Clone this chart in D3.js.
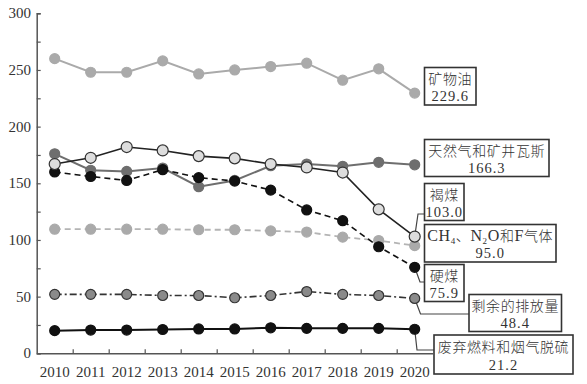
<!DOCTYPE html>
<html>
<head>
<meta charset="utf-8">
<script src="https://cdn.jsdelivr.net/npm/d3@7"></script>
<style>
  body { margin: 0; background: #fff; }
  svg { display: block; }
</style>
</head>
<body>
<svg id="chart" width="587" height="384"></svg>
<script>
// data
var years = [2010, 2011, 2012, 2013, 2014, 2015, 2016, 2017, 2018, 2019, 2020];
var yTicks = [0, 50, 100, 150, 200, 250, 300];

var mineralOil   = [260, 248, 248, 258, 246.5, 250, 253, 256, 241, 251, 229.6];
var naturalGas   = [176, 161.5, 160.5, 163.5, 147, 152.5, 165.5, 167, 165, 168.5, 166.3];
var lignite      = [167, 172.5, 182, 179, 174, 172, 167, 164, 159.5, 127, 103.0];
var hardCoal     = [160, 156, 152.5, 162, 155, 152, 144, 126.5, 117, 94, 75.9];
var fGases       = [109.5, 109.5, 109.5, 109.5, 109, 109, 108, 107, 102.5, 99.5, 95.0];
var remaining    = [52, 52, 52, 51, 51, 49, 51, 54.5, 52, 51, 48.4];
var wasteFuels   = [20, 20.5, 20.5, 21, 21.5, 21.5, 22.5, 22, 22, 22, 21.2];

var seriesNames = ["矿物油", "天然气和矿井瓦斯", "褐煤", "CH4、N2O和F气体", "硬煤", "剩余的排放量", "废弃燃料和烟气脱硫"];

// styles per series
var series = [
  { name: seriesNames[0], values: mineralOil, line: "#aaaaaa", width: 2, dash: null, fill: "#aaaaaa", stroke: "#aaaaaa", r: 5 },
  { name: seriesNames[1], values: naturalGas, line: "#6e6e6e", width: 2, dash: null, fill: "#6e6e6e", stroke: "#6e6e6e", r: 5 },
  { name: seriesNames[3], values: fGases, line: "#b4b4b4", width: 1.8, dash: "6,4", fill: "#aaaaaa", stroke: "#aaaaaa", r: 5 },
  { name: seriesNames[5], values: remaining, line: "#333333", width: 1.6, dash: "7,3,2,3", fill: "#8a8a8a", stroke: "#333333", r: 5 },
  { name: seriesNames[6], values: wasteFuels, line: "#111111", width: 2, dash: null, fill: "#111111", stroke: "#111111", r: 5 },
  { name: seriesNames[4], values: hardCoal, line: "#111111", width: 1.6, dash: "6,4", fill: "#111111", stroke: "#111111", r: 5 },
  { name: seriesNames[2], values: lignite, line: "#222222", width: 1.6, dash: null, fill: "#dddddd", stroke: "#333333", r: 5.5 }
];

var svg = d3.select("#chart");

var x = d3.scaleLinear().domain([2009.5, 2020.5]).range([36.7, 432.7]);
var y = d3.scaleLinear().domain([0, 300]).range([353.3, 13.3]);

var axisColor = "#555";
var serif = "'Liberation Serif', 'DejaVu Serif', serif";
var cjk = "'Noto Sans CJK SC', sans-serif";

// y axis
var yAxis = svg.append("g")
  .attr("transform", "translate(" + x(2009.5) + ",0)")
  .call(d3.axisRight(y).tickValues(d3.range(0, 301, 25)).tickSize(4).tickFormat(""));
yAxis.select(".domain").attr("stroke", axisColor).attr("stroke-width", 1.5);
yAxis.selectAll(".tick line").attr("stroke", axisColor).attr("stroke-width", 1.2);

svg.append("g").selectAll("text")
  .data(yTicks)
  .join("text")
  .attr("x", 31)
  .attr("y", d => y(d) + 5)
  .attr("text-anchor", "end")
  .attr("font-family", serif)
  .attr("font-size", 15)
  .attr("fill", "#333")
  .text(d => d);

// x axis
var xAxis = svg.append("g")
  .attr("transform", "translate(0," + y(0) + ")")
  .call(d3.axisTop(x).tickValues(years.slice(0, -1).map(d => d + 0.5)).tickSize(4).tickSizeOuter(0).tickFormat(""));
xAxis.select(".domain").attr("stroke", axisColor).attr("stroke-width", 1.5);
xAxis.selectAll(".tick line").attr("stroke", axisColor).attr("stroke-width", 1.2);

svg.append("g").selectAll("text")
  .data(years)
  .join("text")
  .attr("x", d => x(d))
  .attr("y", 377)
  .attr("text-anchor", "middle")
  .attr("font-family", serif)
  .attr("font-size", 15)
  .attr("fill", "#333")
  .text(d => d);

// callout boxes (layout only)
var boxes = [
  { name: seriesNames[0], value: mineralOil[10], x0: 424.5, x1: 476, y0: 67.5, y1: 105, via: null },
  { name: seriesNames[1], value: naturalGas[10], x0: 424.5, x1: 549, y0: 139.5, y1: 176.5, via: null },
  { name: seriesNames[2], value: lignite[10], x0: 424.5, x1: 464, y0: 183.5, y1: 220.5, via: [418, 214] },
  { name: seriesNames[3], value: fGases[10], x0: 424.5, x1: 556, y0: 224.5, y1: 262, via: null, chem: true },
  { name: seriesNames[4], value: hardCoal[10], x0: 424.5, x1: 464, y0: 264.5, y1: 301.5, via: [420, 282] },
  { name: seriesNames[5], value: remaining[10], x0: 469, x1: 561.5, y0: 294.5, y1: 331.5, via: [420.5, 314] },
  { name: seriesNames[6], value: wasteFuels[10], x0: 434, x1: 573, y0: 335, y1: 374, via: [417, 350] }
];

// connectors
boxes.forEach(function(b) {
  if (!b.via) return;
  var px = x(2020), py = y(b.value);
  svg.append("path")
    .attr("d", "M" + px + "," + py + "L" + b.via[0] + "," + b.via[1] + "L" + b.x0 + "," + b.via[1])
    .attr("fill", "none")
    .attr("stroke", "#444")
    .attr("stroke-width", 1.2);
});

// lines and points
var line = d3.line().x((d, i) => x(years[i])).y(d => y(d));

series.forEach(function(s) {
  var g = svg.append("g");
  g.append("path")
    .datum(s.values)
    .attr("d", line)
    .attr("fill", "none")
    .attr("stroke", s.line)
    .attr("stroke-width", s.width)
    .attr("stroke-dasharray", s.dash);
  g.selectAll("circle")
    .data(s.values)
    .join("circle")
    .attr("cx", (d, i) => x(years[i]))
    .attr("cy", d => y(d))
    .attr("r", s.r)
    .attr("fill", s.fill)
    .attr("stroke", s.stroke)
    .attr("stroke-width", 1.2);
});

// boxes
var cjkSize = 14, numSize = 14.5;
boxes.forEach(function(b) {
  var g = svg.append("g");
  var h = b.y1 - b.y0;
  var pad = Math.max(0, (h - 36.3) / 3);
  g.append("rect")
    .attr("x", b.x0).attr("y", b.y0)
    .attr("width", b.x1 - b.x0).attr("height", h)
    .attr("fill", "#fff")
    .attr("stroke", "#333")
    .attr("stroke-width", 1.6);
  var cx = (b.x0 + b.x1) / 2;
  var t = g.append("text")
    .attr("x", cx)
    .attr("y", b.y0 + 1.16 * cjkSize + pad)
    .attr("text-anchor", "middle")
    .attr("font-family", cjk)
    .attr("font-size", cjkSize)
    .attr("font-weight", 300)
    .attr("letter-spacing", 0.6)
    .attr("fill", "#333");
  if (b.chem) {
    t.append("tspan").attr("font-family", serif).attr("font-size", 16).text("CH");
    t.append("tspan").attr("font-family", serif).attr("font-size", 9).attr("dy", 3).text("4");
    t.append("tspan").attr("dy", -3).text("、");
    t.append("tspan").attr("font-family", serif).attr("font-size", 16).text("N");
    t.append("tspan").attr("font-family", serif).attr("font-size", 9).attr("dy", 3).text("2");
    t.append("tspan").attr("font-family", serif).attr("font-size", 16).attr("dy", -3).text("O");
    t.append("tspan").text("和");
    t.append("tspan").attr("font-family", serif).attr("font-size", 16).text("F");
    t.append("tspan").text("气体");
  } else {
    t.text(b.name);
  }
  g.append("text")
    .attr("x", cx)
    .attr("y", b.y1 - 0.216 * numSize - pad)
    .attr("text-anchor", "middle")
    .attr("font-family", serif)
    .attr("font-size", numSize)
    .attr("letter-spacing", 1)
    .attr("fill", "#333")
    .text(b.value.toFixed(1));
});
</script>
</body>
</html>
